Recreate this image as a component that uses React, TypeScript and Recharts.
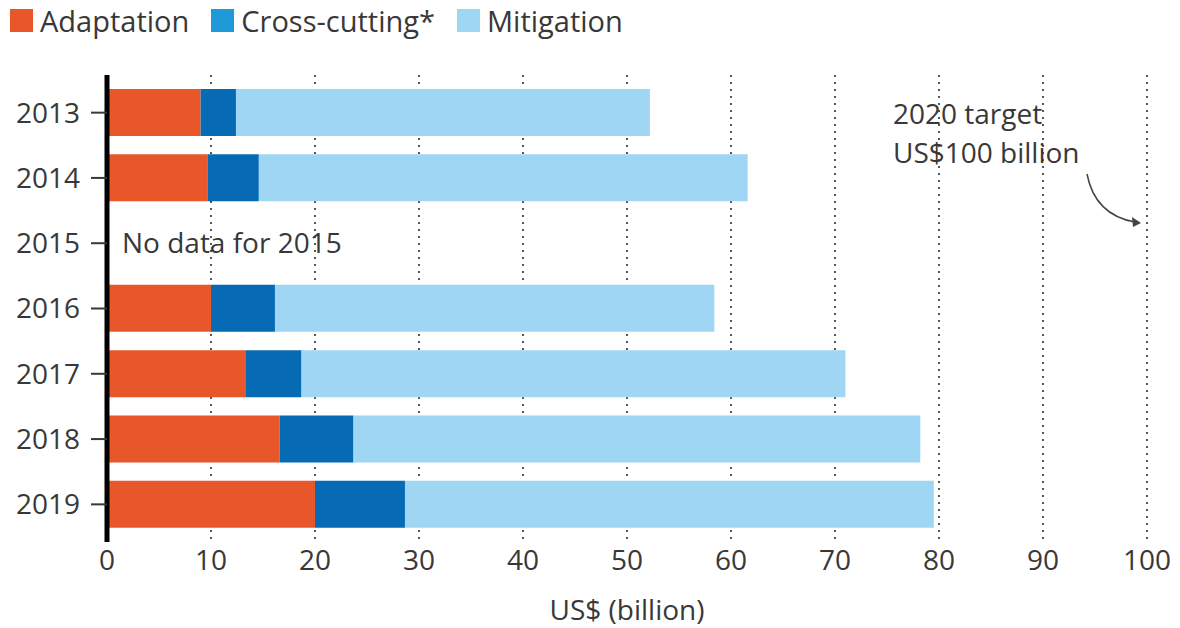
import React from 'react';
import { BarChart, Bar, XAxis, YAxis, CartesianGrid, Legend, ReferenceLine } from 'recharts';

const years = ['2013', '2014', '2015', '2016', '2017', '2018', '2019'];
const adaptation = [9.0, 9.7, null, 10.0, 13.3, 16.6, 20.0];
const crossCutting = [3.4, 4.9, null, 6.15, 5.4, 7.1, 8.65];
const mitigation = [39.8, 47.0, null, 42.25, 52.3, 54.5, 50.85];
const xTicks = [0, 10, 20, 30, 40, 50, 60, 70, 80, 90, 100];

const FONT = '"Open Sans", Lato, sans-serif';
const TEXT = '#383838';
const FS = 28;

const series = [
  { key: 'adaptation', name: 'Adaptation', color: '#E8572A', swatch: '#E8572A' },
  { key: 'crossCutting', name: 'Cross-cutting*', color: '#066AB4', swatch: '#1E9AD8' },
  { key: 'mitigation', name: 'Mitigation', color: '#9ED6F4', swatch: '#9ED6F4' },
];

const data = years.map((year, i) => ({
  year,
  adaptation: adaptation[i],
  crossCutting: crossCutting[i],
  mitigation: mitigation[i],
}));

const LegendContent = () => (
  <div style={{ display: 'flex', alignItems: 'center', height: 40, fontFamily: FONT, fontSize: 29, color: TEXT }}>
    {series.map(s => (
      <div key={s.key} style={{ display: 'flex', alignItems: 'center', marginRight: 22 }}>
        <span style={{ display: 'inline-block', width: 23, height: 23, background: s.swatch, marginRight: 7 }} />
        <span>{s.name}</span>
      </div>
    ))}
  </div>
);

// annotation next to the 100 line: text and a curved arrow pointing at it
const TargetLabel = (props: any) => {
  const { x, y } = props.viewBox;
  const tx = x - 254;
  return (
    <g>
      <text x={tx} y={y + 42} fill={TEXT} fontSize={FS} fontFamily={FONT} dominantBaseline="middle">2020 target</text>
      <text x={tx} y={y + 81} fill={TEXT} fontSize={FS} fontFamily={FONT} dominantBaseline="middle">US$100 billion</text>
      <path d={`M ${x - 60} ${y + 99} Q ${x - 52} ${y + 140} ${x - 12} ${y + 147}`} stroke="#444" strokeWidth={1.5} fill="none" />
      <path d={`M ${x - 6} ${y + 148} L ${x - 15} ${y + 142} L ${x - 14} ${y + 152} Z`} fill="#444" />
    </g>
  );
};

export default function App() {
  return (
    <div style={{ position: 'absolute', left: 0, top: 0, background: '#fff' }}>
      <BarChart
        width={1180}
        height={628}
        data={data}
        layout="vertical"
        margin={{ top: 35, right: 33, bottom: 0, left: 0 }}
      >
        <Legend verticalAlign="top" align="left" content={<LegendContent />} wrapperStyle={{ top: 0, left: 10 }} height={40} />
        <CartesianGrid horizontal={false} stroke="#555" strokeWidth={2} strokeDasharray="2 5" />
        <XAxis
          type="number"
          domain={[0, 100]}
          ticks={xTicks}
          axisLine={false}
          tickLine={false}
          height={86}
          tick={{ fill: TEXT, fontSize: FS, fontFamily: FONT }}
          label={{ value: 'US$ (billion)', position: 'insideBottom', offset: 8, fill: TEXT, fontSize: FS, fontFamily: FONT }}
        />
        <YAxis
          type="category"
          dataKey="year"
          width={107}
          padding={{ top: 5, bottom: 5 }}
          axisLine={{ stroke: '#000', strokeWidth: 5 }}
          tickLine={{ stroke: TEXT, strokeWidth: 2 }}
          tickSize={16}
          tickMargin={11}
          tick={{ fill: TEXT, fontSize: FS, fontFamily: FONT }}
        />
        {series.map(s => (
          <Bar key={s.key} dataKey={s.key} name={s.name} stackId="a" fill={s.color} barSize={47} isAnimationActive={false} />
        ))}
        <ReferenceLine
          y="2015"
          stroke="none"
          label={{ value: 'No data for 2015', position: 'insideLeft', offset: 15, fill: TEXT, fontSize: FS, fontFamily: FONT }}
        />
        <ReferenceLine x={100} stroke="none" label={<TargetLabel />} />
      </BarChart>
    </div>
  );
}
